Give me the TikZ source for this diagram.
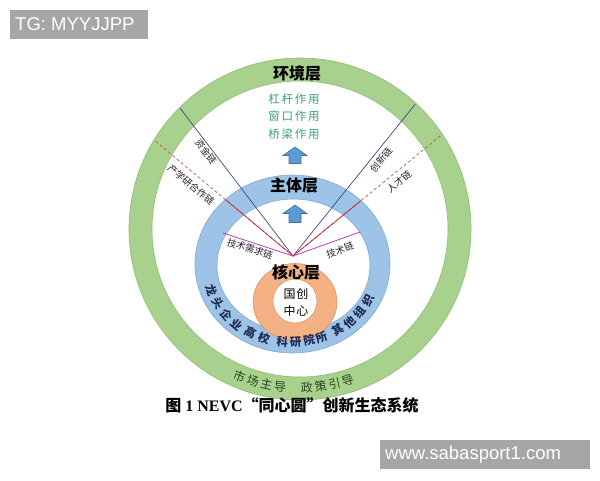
\documentclass[tikz,border=0pt]{standalone}
\usepackage{fontspec}
\setmainfont{Liberation Serif}
\setsansfont{Liberation Sans}
\newfontfamily\cjk{Noto Sans CJK SC}
\definecolor{greenring}{RGB}{169,209,142}
\definecolor{greenedge}{RGB}{140,188,112}
\definecolor{bluering}{RGB}{157,195,230}
\definecolor{blueedge}{RGB}{128,168,214}
\definecolor{orangering}{RGB}{244,177,131}
\definecolor{orangeedge}{RGB}{226,142,98}
\definecolor{arrowblue}{RGB}{91,155,213}
\definecolor{arrowedge}{RGB}{65,113,156}
\definecolor{effgreen}{RGB}{60,160,120}
\definecolor{navyline}{RGB}{62,72,130}
\definecolor{redline}{RGB}{205,30,65}
\definecolor{dashline}{RGB}{190,85,60}
\definecolor{purpleline}{RGB}{185,65,185}
\definecolor{wmgray}{RGB}{166,166,166}
\definecolor{darknavy}{RGB}{30,45,85}
\definecolor{darkgreen}{RGB}{40,70,30}
\newcommand{\gapc}{\hspace{1.8pt}}
\tikzset{
  layertitle/.style={font={\cjk\bfseries\fontsize{16pt}{16pt}\selectfont}, inner sep=0pt},
  effect/.style={font={\cjk\fontsize{11.5pt}{11.5pt}\selectfont}, text=effgreen, inner sep=0pt},
  corelbl/.style={font={\cjk\fontsize{12pt}{12pt}\selectfont}, inner sep=0pt},
  chainlbl/.style={font={\cjk\fontsize{9.5pt}{9.5pt}\selectfont}, inner sep=0pt, text=black!85},
  bluechar/.style={font={\cjk\bfseries\fontsize{11.5pt}{11.5pt}\selectfont}, text=darknavy, inner sep=0pt},
  greenchar/.style={font={\cjk\fontsize{12pt}{12pt}\selectfont}, text=darkgreen, inner sep=0pt},
  wm/.style={text=white, font={\sffamily\fontsize{18.5pt}{18.5pt}\selectfont}, inner sep=0pt, anchor=west},
  blockarrow/.style={fill=arrowblue, draw=arrowedge, line width=0.6pt},
  navy/.style={draw=navyline, line width=0.7pt},
  dashred/.style={draw=dashline, line width=0.7pt, dashed, dash pattern=on 3pt off 2.5pt},
  solidred/.style={draw=redline, line width=0.7pt},
  purple/.style={draw=purpleline, line width=0.8pt},
}
\begin{document}
\begin{tikzpicture}[x=1pt,y=-1pt]
\useasboundingbox (0,0) rectangle (600,480);
\fill[white] (0,0) rectangle (600,480);

% environment ring
\fill[greenring,even odd rule] (300,229) circle[radius=171] (300,229) circle[radius=148];
\draw[greenedge,line width=0.6pt] (300,229) circle[radius=171];
\draw[greenedge,line width=0.6pt] (300,229) circle[radius=148];

% subject ring
\fill[bluering,even odd rule] (292.5,264) ellipse[x radius=97.5,y radius=89] (293.5,265.5) ellipse[x radius=76.5,y radius=66.5];
\draw[blueedge,line width=0.6pt] (292.5,264) ellipse[x radius=97.5,y radius=89];
\draw[blueedge,line width=0.6pt] (293.5,265.5) ellipse[x radius=76.5,y radius=66.5];

% core ring
\fill[orangering,even odd rule] (295,302) ellipse[x radius=42,y radius=38.5] (295,301) circle[radius=22];
\draw[orangeedge,line width=0.6pt] (295,302) ellipse[x radius=42,y radius=38.5];
\draw[orangeedge,line width=0.5pt] (295,301) circle[radius=22];

% connector points
\coordinate (P) at (293,256);
\coordinate (L1) at (180.2,108.3);
\coordinate (L2) at (154.8,140.6);
\coordinate (L3) at (223,233);
\coordinate (R1) at (415.3,104.1);
\coordinate (R2) at (441.8,134.8);
\coordinate (R3) at (360,232);

\draw[navy] (P) -- (L1);
\draw[navy] (P) -- (R1);
\draw[dashred] (P) -- (L2);
\draw[dashred] (P) -- (R2);
\begin{scope}
  \clip (292.5,264) ellipse[x radius=97.5,y radius=89];
  \draw[solidred] (P) -- (L2);
  \draw[solidred] (P) -- (R2);
\end{scope}
\draw[purple] (P) -- (L3);
\draw[purple] (P) -- (R3);

% arrows
\draw[blockarrow] (295,147) -- (307,155.5) -- (301,155.5) -- (301,163.5) -- (289,163.5) -- (289,155.5) -- (283,155.5) -- cycle;
\draw[blockarrow] (295,205) -- (307,213.5) -- (301,213.5) -- (301,222.5) -- (289,222.5) -- (289,213.5) -- (283,213.5) -- cycle;

% titles
\node[layertitle] (huanjing) at (297,73) {环境层};
\node[effect] (e1) at (294,99) {杠\gapc 杆\gapc 作\gapc 用};
\node[effect] (e2) at (294,116.5) {窗\gapc 口\gapc 作\gapc 用};
\node[effect] (e3) at (294,134) {桥\gapc 梁\gapc 作\gapc 用};
\node[layertitle] (zhuti) at (294,185) {主体层};
\node[layertitle] (hexin) at (296,272) {核心层};
\node[corelbl] (c1) at (296,293.5) {国\hspace{1pt}创};
\node[corelbl] (c2) at (296,311) {中\hspace{1pt}心};

% chain labels
\node[chainlbl,rotate=-52.6] (lbl1) at (206,152) {资金链};
\node[chainlbl,rotate=-39.8] (lbl2) at (191,185) {产学研合作链};
\node[chainlbl,rotate=-18.2] (lbl3) at (250,249) {技术需求链};
\node[chainlbl,rotate=51.2] (lbl4) at (381,160) {创新链};
\node[chainlbl,rotate=39.2] (lbl5) at (399,182) {人才链};
\node[chainlbl,rotate=19.7] (lbl6) at (340,250) {技术链};

% subject ring text
\foreach \c/\a [count=\i] in {龙/70,头/59.5,企/49,业/39.5,高/28.5,校/19,科/6.5,研/-2.5,院/-11.5,所/-20,其/-32.5,他/-42,组/-52,织/-62.5}
  \node[bluechar,rotate={-\a}] (b\i) at ({292-86*sin(\a)},{264+78*cos(\a)}) {\c};

% environment ring text
\foreach \c/\a [count=\i] in {市/22.2,场/17.2,主/12.2,导/7.2,政/-2.5,策/-7.5,引/-12.5,导/-17.5}
  \node[greenchar,rotate={-\a}] (g\i) at ({300-159*sin(\a)},{229+159*cos(\a)}) {\c};

% caption
\node[inner sep=0pt,font={\fontsize{16pt}{16pt}\selectfont}] (caption) at (292,405)
  {{\cjk\bfseries 图}\ \textbf{1 NEVC}{\cjk\bfseries “同心圆”创新生态系统}};

% watermarks
\fill[wmgray] (10,10) rectangle (148,39);
\node[wm] (tg) at (15,24.5) {TG: MYYJJPP};
\fill[wmgray] (380,440) rectangle (590,469);
\node[wm] (www) at (385,454.5) {www.sabasport1.com};
\end{tikzpicture}
\end{document}
